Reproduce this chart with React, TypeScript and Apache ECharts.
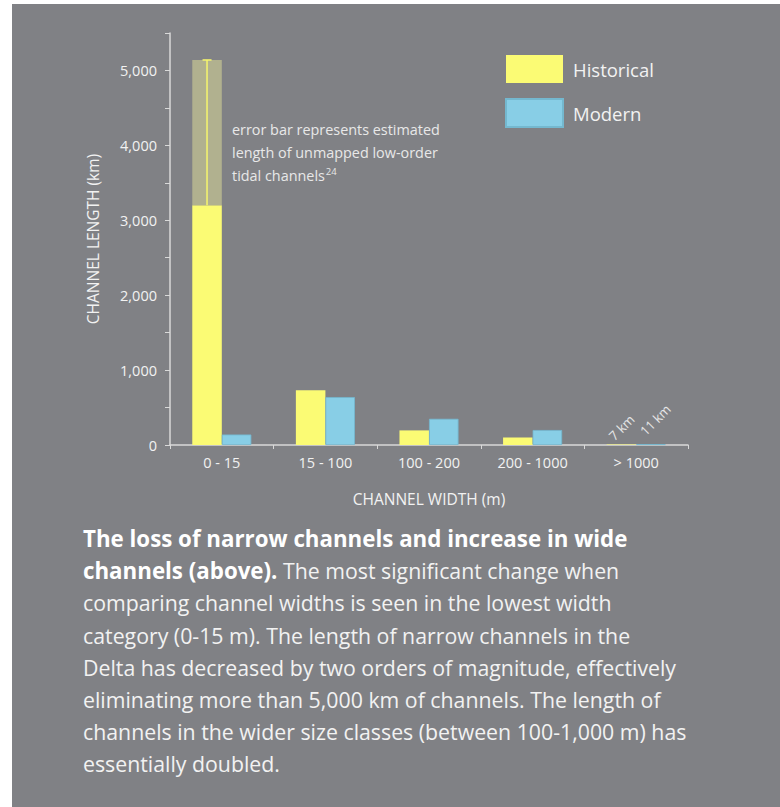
import React, { useEffect, useRef } from "react";
import * as echarts from "echarts";

const categories = ["0 - 15", "15 - 100", "100 - 200", "200 - 1000", "> 1000"];
const historical = [3200, 730, 195, 100, 7];
const modern = [140, 640, 350, 200, 11];
const historicalUpperEstimate = [5140, null, null, null, null];
const yTicks = [0, 1000, 2000, 3000, 4000, 5000];

const FONT = "'Open Sans', 'Noto Sans', sans-serif";
const BG = "#808185";
const YELLOW = "#FBFB74";
const BLUE = "#88CEE6";
const OLIVE = "#B1B18F";
const TXT = "#F2F2F2";
const BAR_GAP_CAT = 0.43;

const captionLines = [
  "{b|The loss of narrow channels and increase in wide}",
  "{b|channels (above).}{r| The most significant change when}",
  "{r|comparing channel widths is seen in the lowest width}",
  "{r|category (0-15 m). The length of narrow channels in the}",
  "{r|Delta has decreased by two orders of magnitude, effectively}",
  "{r|eliminating more than 5,000 km of channels. The length of}",
  "{r|channels in the wider size classes (between 100-1,000 m) has}",
  "{r|essentially doubled.}",
];

export default function App() {
  const ref = useRef<HTMLDivElement>(null);
  useEffect(() => {
    if (!ref.current) return;
    const chart = echarts.init(ref.current, null, { renderer: "svg" });
    const unmapped = historicalUpperEstimate.map((u, i) =>
      u == null ? "-" : u - historical[i]
    );
    const errData = historicalUpperEstimate
      .map((u, i) => (u == null ? null : [i, historical[i], u]))
      .filter((d) => d != null);
    const kmLabel = (distance: number, offset: number[]) => ({
      show: true,
      position: "top",
      rotate: 45,
      distance,
      offset,
      formatter: "{c} km",
      color: "#E6E6E6",
      fontSize: 13,
      fontFamily: FONT,
      align: "center",
      verticalAlign: "middle",
    });
    chart.setOption({
      animation: false,
      backgroundColor: BG,
      textStyle: { fontFamily: FONT },
      grid: { left: 158, right: 92, top: 29, bottom: 362 },
      legend: {
        data: ["Historical", "Modern"],
        orient: "vertical",
        left: 493,
        top: 51,
        padding: 0,
        itemWidth: 57,
        itemHeight: 28,
        itemGap: 15,
        icon: "rect",
        textStyle: { color: TXT, fontSize: 18.5, fontFamily: FONT, padding: [0, 0, 0, 5] },
      },
      xAxis: {
        type: "category",
        data: categories,
        name: "CHANNEL WIDTH (m)",
        nameLocation: "middle",
        nameGap: 46,
        nameTextStyle: { color: TXT, fontSize: 15.5, fontFamily: FONT },
        axisLine: { lineStyle: { color: "#D9D9D9", width: 1.5 } },
        axisTick: { show: true, length: 4, lineStyle: { color: "#D9D9D9" } },
        axisLabel: { color: TXT, fontSize: 14.5, margin: 10, fontFamily: FONT },
      },
      yAxis: {
        type: "value",
        min: 0,
        max: 5500,
        interval: 500,
        name: "CHANNEL LENGTH (km)",
        nameLocation: "middle",
        nameGap: 69,
        nameTextStyle: { color: TXT, fontSize: 15.5, fontFamily: FONT },
        axisLine: { show: true, lineStyle: { color: "#D9D9D9", width: 1.5 } },
        axisTick: { show: true, length: 5, lineStyle: { color: "#D9D9D9" } },
        splitLine: { show: false },
        axisLabel: {
          color: TXT,
          fontSize: 14.5,
          margin: 13,
          fontFamily: FONT,
          formatter: (v: number) =>
            yTicks.includes(v) ? v.toLocaleString("en-US") : "",
        },
      },
      series: [
        {
          name: "Historical",
          type: "bar",
          stack: "h",
          data: historical.map((v, i) =>
            i === 4 ? { value: v, label: kmLabel(17, [0, 0]) } : v
          ),
          itemStyle: { color: YELLOW },
          barGap: "0%",
          barCategoryGap: BAR_GAP_CAT * 100 + "%",
        },
        {
          name: "Unmapped",
          type: "bar",
          stack: "h",
          data: unmapped,
          itemStyle: { color: OLIVE },
        },
        {
          name: "Modern",
          type: "bar",
          data: modern.map((v, i) =>
            i === 4 ? { value: v, label: kmLabel(20, [6, 0]) } : v
          ),
          itemStyle: { color: BLUE, borderColor: "#74B8CF", borderWidth: 0.8 },
          barGap: "0%",
          barCategoryGap: BAR_GAP_CAT * 100 + "%",
        },
        {
          name: "ErrorBar",
          type: "custom",
          z: 10,
          data: errData,
          renderItem: (params: any, api: any) => {
            const x = api.value(0);
            const lo = api.coord([x, api.value(1)]);
            const hi = api.coord([x, api.value(2)]);
            const band = api.size([1, 0])[0];
            const bw = (band * (1 - BAR_GAP_CAT)) / 2;
            const cx = lo[0] - bw / 2;
            const st = { stroke: "#F7F76C", lineWidth: 1.5 };
            return {
              type: "group",
              children: [
                { type: "line", shape: { x1: cx, y1: lo[1], x2: cx, y2: hi[1] }, style: st },
                { type: "line", shape: { x1: cx - 4.5, y1: hi[1], x2: cx + 4.5, y2: hi[1] }, style: st },
              ],
            };
          },
        },
      ],
      graphic: [
        {
          type: "text",
          left: 220,
          top: 118,
          style: {
            text: "{r|error bar represents estimated}\n{r|length of unmapped low-order}\n{r|tidal channels}{sup|24}",
            fill: "#E8E8E8",
            rich: {
              r: { fontSize: 14.4, fontFamily: FONT, fill: "#E8E8E8", lineHeight: 23 },
              sup: { fontSize: 9.5, fontFamily: FONT, fill: "#E8E8E8", verticalAlign: "top", lineHeight: 12, padding: [3, 0, 0, 1] },
            },
          },
        },
        {
          type: "text",
          left: 71,
          top: 523.5,
          style: {
            text: captionLines.join("\n"),
            fill: TXT,
            rich: {
              b: { fontSize: 22.3, fontWeight: "bold", fontFamily: FONT, fill: "#FFFFFF", lineHeight: 32.2 },
              r: { fontSize: 21.3, fontFamily: FONT, fill: TXT, lineHeight: 32.2 },
            },
          },
        },
      ],
    });
    return () => chart.dispose();
  }, []);
  return (
    <div
      ref={ref}
      style={{ position: "fixed", left: 12, top: 4, width: 768, height: 803 }}
    />
  );
}
